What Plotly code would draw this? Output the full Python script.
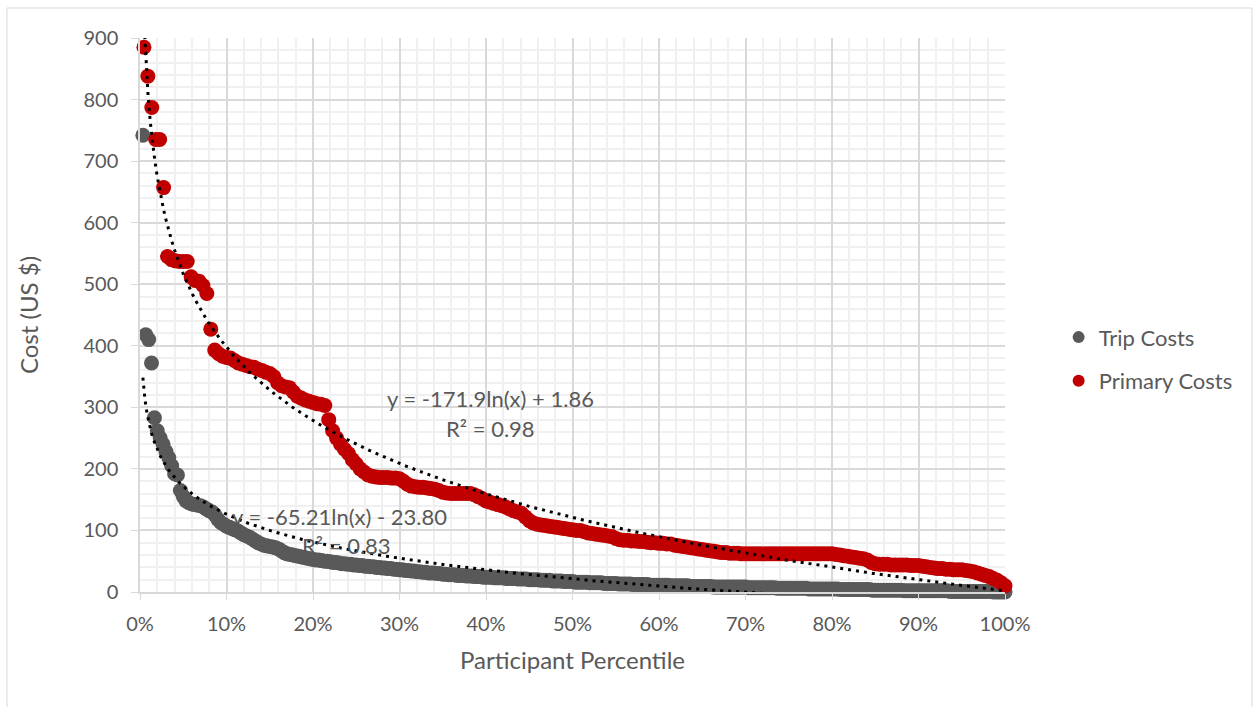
import plotly.graph_objects as go

# Costs per participant, sorted from highest to lowest
trip_costs = [
    742, 418, 410, 372, 283, 262, 250, 240, 228, 218,
    205, 192, 190, 165, 155, 148, 145, 143, 142, 141,
    140, 138, 135, 132, 130, 125, 118, 113, 110, 107,
    105, 103, 101, 99, 96, 93, 91, 89, 86, 83,
    80, 78, 76, 75, 74, 73, 72, 70, 67, 64,
    62, 61, 60, 59, 58, 57, 56, 55, 54, 53,
    52, 52, 51, 50, 50, 49, 48, 48, 47, 46,
    46, 45, 45, 44, 44, 43, 43, 42, 42, 41,
    41, 40, 40, 39, 39, 38, 38, 37, 37, 36,
    36, 35, 35, 34, 34, 33, 33, 32, 32, 31,
    31, 31, 30, 30, 29, 29, 28, 28, 28, 27,
    27, 27, 26, 26, 26, 25, 25, 25, 24, 24,
    24, 24, 23, 23, 23, 23, 22, 22, 22, 22,
    21, 21, 21, 21, 20, 20, 20, 20, 19, 19,
    19, 19, 18, 18, 18, 18, 17, 17, 17, 17,
    16, 16, 16, 16, 16, 15, 15, 15, 15, 15,
    14, 14, 14, 14, 14, 13, 13, 13, 13, 13,
    12, 12, 12, 12, 12, 12, 11, 11, 11, 11,
    11, 11, 11, 10, 10, 10, 10, 10, 10, 10,
    9, 9, 9, 9, 9, 9, 9, 9, 8, 8,
    8, 8, 8, 8, 8, 8, 8, 8, 8, 8,
    7, 7, 7, 7, 7, 7, 7, 7, 7, 7,
    6, 6, 6, 6, 6, 6, 6, 6, 6, 6,
    6, 5, 5, 5, 5, 5, 5, 5, 5, 5,
    5, 5, 4, 4, 4, 4, 4, 4, 4, 4,
    4, 4, 4, 3, 3, 3, 3, 3, 3, 3,
    3, 3, 3, 3, 2, 2, 2, 2, 2, 2,
    2, 2, 2, 2, 2, 2, 2, 2, 2, 2,
    1, 1, 1, 1, 1, 1, 1, 1, 1, 1,
    1, 1, 1, 1, 1, 0, 0, 0, 0, 0,
]

primary_costs = [
    885, 838, 787, 735, 735, 657, 545, 540, 538, 537,
    537, 537, 512, 506, 505, 498, 485, 427, 393, 387,
    383, 381, 380, 376, 372, 370, 368, 366, 365, 362,
    360, 357, 355, 350, 340, 335, 333, 332, 325, 318,
    315, 312, 310, 308, 306, 305, 303, 280, 262, 250,
    240, 232, 225, 215, 208, 200, 195, 190, 188, 187,
    186, 186, 186, 185, 185, 184, 180, 175, 172, 171,
    170, 170, 169, 168, 167, 165, 162, 161, 160, 160,
    160, 160, 160, 160, 158, 155, 152, 148, 146, 144,
    142, 140, 138, 135, 132, 130, 128, 122, 116, 112,
    110, 109, 108, 107, 106, 105, 104, 103, 102, 101,
    100, 100, 98, 96, 95, 94, 93, 92, 91, 90,
    87, 85, 84, 84, 83, 83, 82, 82, 81, 80,
    80, 79, 79, 78, 78, 76, 75, 74, 73, 72,
    71, 70, 69, 68, 67, 66, 65, 64, 64, 63,
    63, 63, 62, 62, 62, 62, 62, 62, 62, 62,
    62, 62, 62, 62, 62, 62, 62, 62, 62, 62,
    62, 62, 62, 62, 62, 62, 61, 60, 59, 58,
    57, 56, 55, 54, 52, 48, 46, 45, 45, 45,
    44, 44, 44, 44, 44, 43, 43, 43, 42, 41,
    40, 39, 38, 38, 37, 37, 36, 36, 36, 35,
    34, 33, 31, 29, 27, 25, 22, 19, 15, 10,
]

# Logarithmic trendlines (x as a fraction of participants)
trip_fit = {"a": -65.21, "b": -23.80, "r2": 0.83}
primary_fit = {"a": -171.9, "b": 1.86, "r2": 0.98}

x_ticks = [i / 10 for i in range(11)]
y_ticks = list(range(0, 1000, 100))


def percentile(values):
    n = len(values)
    return [(i + 1) / n for i in range(n)]


def log_curve(fit, x0, steps=400):
    import math
    xs = [x0 + (1 - x0) * k / steps for k in range(steps + 1)]
    return xs, [fit["a"] * math.log(x) + fit["b"] for x in xs]


TEXT = "#595959"
FONT = "Lato"
GREY = "#595959"
RED = "#C00000"

trip_x = percentile(trip_costs)
primary_x = percentile(primary_costs)

fig = go.Figure()

fig.add_trace(go.Scatter(
    x=trip_x, y=trip_costs, mode="markers", name="Trip Costs",
    marker=dict(color=GREY, size=15, line=dict(width=0)),
    legendgroup="trip", cliponaxis=False,
))
fig.add_trace(go.Scatter(
    x=primary_x, y=primary_costs, mode="markers", name="Primary Costs",
    marker=dict(color=RED, size=15, line=dict(width=0)),
    legendgroup="primary", cliponaxis=False,
))

for fit, xs in ((trip_fit, trip_x), (primary_fit, primary_x)):
    tx, ty = log_curve(fit, xs[0])
    fig.add_trace(go.Scatter(
        x=tx, y=ty, mode="lines", showlegend=False, hoverinfo="skip",
        line=dict(color="black", width=3, dash="3px,5px"),
    ))

ann_font = dict(family=FONT, size=22, color=TEXT)


def eq_text(fit):
    sign = "+" if fit["b"] >= 0 else "-"
    return f"y = {fit['a']:.4g}ln(x) {sign} {abs(fit['b']):.2f}"


annotations = [
    dict(x=0.405, y=315, text=eq_text(primary_fit)),
    dict(x=0.405, y=266, text=f"R² = {primary_fit['r2']:.2f}"),
    dict(x=0.231, y=122, text=eq_text(trip_fit)),
    dict(x=0.239, y=76, text=f"R² = {trip_fit['r2']:.2f}"),
]
for a in annotations:
    a.update(xref="x", yref="y", showarrow=False, font=ann_font,
             xanchor="center", yanchor="middle")

fig.update_layout(
    width=1253, height=707,
    margin=dict(l=140, r=248, t=38, b=115),
    paper_bgcolor="white", plot_bgcolor="white",
    font=dict(family=FONT, color=TEXT, size=20),
    annotations=annotations,
    legend=dict(
        x=1.062, y=0.42, xanchor="left", yanchor="middle",
        font=dict(family=FONT, size=22, color=TEXT),
        traceorder="grouped", tracegroupgap=12,
        itemsizing="constant", itemwidth=30,
    ),
    shapes=[dict(
        type="rect", xref="paper", yref="paper",
        x0=-0.1538, x1=1.2855, y0=-0.215, y1=1.0542,
        line=dict(color="#d9d9d9", width=1), layer="below",
    )],
)

fig.update_xaxes(
    range=[0, 1], tickvals=x_ticks, tickformat=".0%",
    showgrid=True, gridcolor="#d9d9d9", gridwidth=1.5,
    minor=dict(dtick=0.02, showgrid=True, gridcolor="#f0f0f0", gridwidth=1.5,
               ticks=""),
    showline=True, linecolor="#d9d9d9", linewidth=1.5,
    ticks="outside", ticklen=6, tickcolor="#d9d9d9",
    ticklabelstandoff=7,
    zeroline=False,
    tickfont=dict(family=FONT, size=20, color=TEXT),
    title=dict(text="Participant Percentile",
               font=dict(family=FONT, size=24, color=TEXT), standoff=18),
)
fig.update_yaxes(
    range=[0, 900], tickvals=y_ticks,
    showgrid=True, gridcolor="#d9d9d9", gridwidth=1.5,
    minor=dict(dtick=20, showgrid=True, gridcolor="#f0f0f0", gridwidth=1.5,
               ticks=""),
    showline=True, linecolor="#d9d9d9", linewidth=1.5,
    ticks="outside", ticklen=7, tickcolor="#d9d9d9",
    ticklabelstandoff=9,
    zeroline=False,
    tickfont=dict(family=FONT, size=20, color=TEXT),
    title=dict(text="Cost (US $)",
               font=dict(family=FONT, size=24, color=TEXT), standoff=38),
)

fig.write_html("out.html")
